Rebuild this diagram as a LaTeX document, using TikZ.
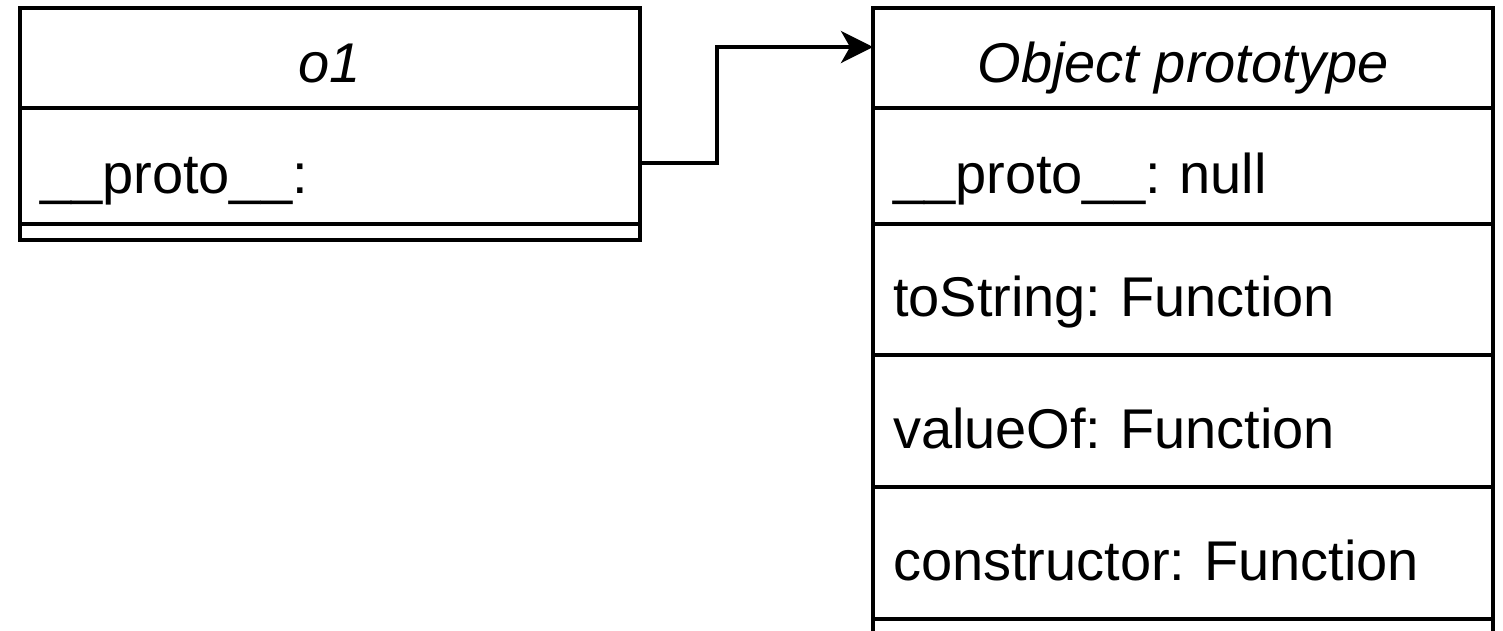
\documentclass[tikz,border=0pt]{standalone}
\usepackage{fontspec}
\setmainfont{Liberation Sans}
\frenchspacing
\usetikzlibrary{arrows.meta,positioning}

\tikzset{
  umlbox/.style={draw, line width=4pt, outer sep=0pt, inner sep=0pt, minimum width=620pt},
  headbox/.style={umlbox, minimum height=100pt, font=\fontsize{56pt}{67pt}\selectfont\itshape,
    text height=60pt, text depth=12pt},
  rowbox/.style={umlbox, text width=580pt, inner xsep=20pt, align=left,
    font=\fontsize{56pt}{67pt}\selectfont, text height=70pt, text depth=16pt},
  link/.style={line width=4pt, -{Stealth[length=32pt,width=32pt,inset=9pt]}}
}

\begin{document}
\begin{tikzpicture}[x=1pt,y=-1pt]
\clip (0,0) rectangle (1503,630);

% o1
\node[headbox, anchor=north west] (o1head) at (20,8) {o1};
\node[rowbox, minimum height=116pt, below=0pt of o1head] (o1proto) {\_\_proto\_\_:};
\node[umlbox, minimum height=16pt, below=0pt of o1proto] (o1rest) {};

% Object prototype
\node[headbox, anchor=north west] (objhead) at (873,8) {Object prototype};
\node[rowbox, minimum height=116pt, below=0pt of objhead] (objproto) {\_\_proto\_\_: null};
\node[rowbox, minimum height=131pt, below=0pt of objproto] (objtostring) {toString: Function};
\node[rowbox, minimum height=132pt, below=0pt of objtostring] (objvalueof) {valueOf: Function};
\node[rowbox, minimum height=132pt, below=0pt of objvalueof] (objconstructor) {constructor: Function};
\node[umlbox, minimum height=60pt, below=0pt of objconstructor] (objmore) {};

\coordinate (bend) at (717,47);
\draw[link] ([yshift=3pt]o1proto.east) -| (bend) -- ([yshift=11pt]objhead.west);
\end{tikzpicture}
\end{document}
